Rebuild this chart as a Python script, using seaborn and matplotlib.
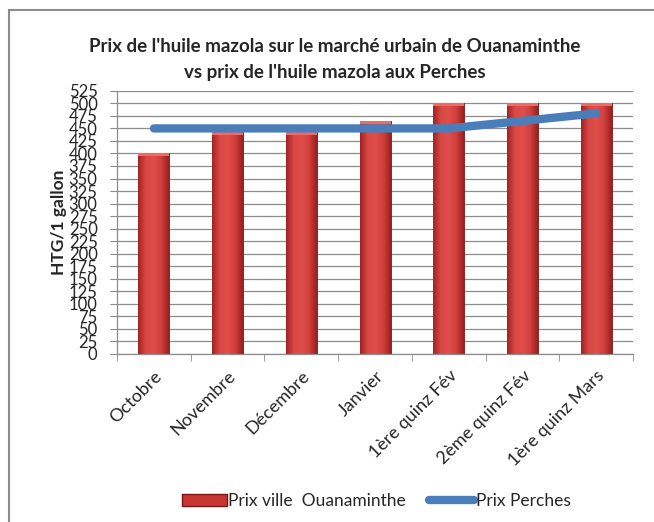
import numpy as np
import pandas as pd
import matplotlib
matplotlib.use("Agg")
import matplotlib.pyplot as plt
from matplotlib.patches import Rectangle
from matplotlib.lines import Line2D
from matplotlib.colors import LinearSegmentedColormap
import seaborn as sns

# Data
mois = ["Octobre", "Novembre", "Décembre", "Janvier",
        "1ère quinz Fév", "2ème quinz Fév", "1ère quinz Mars"]
prix_ouanaminthe = [400, 443, 443, 465, 500, 500, 500]
prix_perches = [450, 450, 450, 450, 450, 465, 480]
yticks = list(range(0, 526, 25))

TITLE = "Prix de l'huile mazola sur le marché urbain de Ouanaminthe\nvs prix de l'huile mazola aux Perches"
FONT = ["Lato", "DejaVu Sans"]

sns.set_style("white")
plt.rcParams["font.family"] = FONT

df = pd.DataFrame({"mois": mois, "ouana": prix_ouanaminthe, "perches": prix_perches})

fig = plt.figure(figsize=(6.54, 5.22), dpi=100)
ax = fig.add_axes([0.179, 0.322, 0.789, 0.504])

# grid first so it stays behind
ax.set_axisbelow(True)
ax.yaxis.grid(True, color="#8c8c8c", linewidth=0.9)

sns.barplot(data=df, x="mois", y="ouana", ax=ax, color="#d8403c",
            width=0.42, edgecolor="#7a1414", linewidth=0.6, saturation=1)

# cylinder-like shading on the bars
shade = LinearSegmentedColormap.from_list(
    "shade", ["#a02424", "#d94844", "#e04e4a", "#d0403c", "#9a2020"])
grad = np.linspace(0, 1, 64).reshape(1, -1)
for p in ax.patches:
    x0, y0 = p.get_x(), p.get_y()
    w, h = p.get_width(), p.get_height()
    im = ax.imshow(grad, cmap=shade, aspect="auto",
                   extent=[x0, x0 + w, y0, y0 + h], zorder=p.get_zorder() + 0.1)
    im.set_clip_path(p)
    # lighter cap on top
    ax.add_patch(Rectangle((x0, y0 + h - 6), w, 6, facecolor="#f06a66",
                           edgecolor="none", zorder=p.get_zorder() + 0.2))

sns.lineplot(data=df, x="mois", y="perches", ax=ax, color="#4a7ebb",
             linewidth=6, solid_capstyle="round", zorder=5, sort=False)

ax.set_xlim(-0.5, len(mois) - 0.5)
ax.set_ylim(0, 525)
ax.set_yticks(yticks)
ax.set_yticklabels([str(v) for v in yticks], fontsize=12)
ax.set_xticks(range(len(mois)))
ax.set_xticklabels(mois, rotation=45, ha="right", rotation_mode="anchor", fontsize=13)
ax.set_xticks(np.arange(-0.5, len(mois), 1), minor=True)
ax.tick_params(axis="x", which="major", length=0, pad=10)
ax.tick_params(axis="x", which="minor", length=5, color="#8c8c8c", bottom=True)
ax.tick_params(axis="y", length=5, color="#8c8c8c", left=True, pad=9)

for s in ["top", "right"]:
    ax.spines[s].set_visible(False)
for s in ["left", "bottom"]:
    ax.spines[s].set_color("#8c8c8c")
    ax.spines[s].set_linewidth(0.9)

ax.set_xlabel("")
ax.set_ylabel("HTG/1 gallon", fontsize=12.5, fontweight="bold")
ax.yaxis.set_label_coords(-0.097, 0.5)

fig.text(0.512, 0.886, TITLE, ha="center", va="center", fontsize=13.5,
         fontweight="bold", linespacing=1.6)

handles = [Rectangle((0, 0), 1, 1, facecolor="#c83633", edgecolor="#7a1414"),
           Line2D([0], [0], color="#4a7ebb", linewidth=6, solid_capstyle="round")]
fig.legend(handles, ["Prix ville  Ouanaminthe", "Prix Perches"], loc="center",
           bbox_to_anchor=(0.575, 0.04), ncol=2, frameon=False, fontsize=12.5,
           handlelength=2.6, handletextpad=0.1, columnspacing=1.3)

# chart frame (cropped on the right and bottom in the reference)
fig.add_artist(Rectangle((0.013, -0.1), 1.2, 1.08, transform=fig.transFigure,
                         fill=False, edgecolor="#8c8c8c", linewidth=1.5))

fig.savefig("out.png", dpi=100)
